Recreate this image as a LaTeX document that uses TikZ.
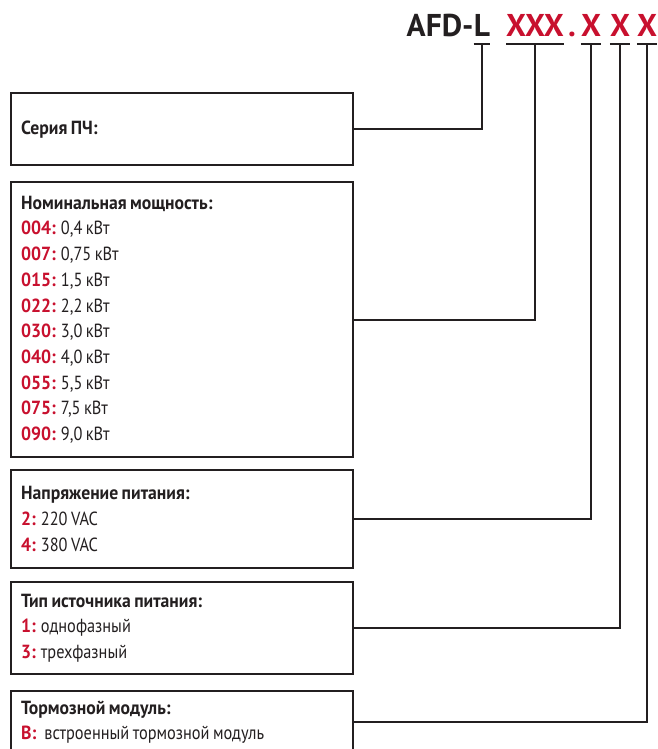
\documentclass[tikz,border=0pt]{standalone}
\usepackage{fontspec}
\setmainfont{PT Sans}[UprightFeatures={FakeStretch=0.86},BoldFeatures={FakeStretch=0.93}]
\newfontfamily\titlefont{PT Sans}
\usetikzlibrary{positioning}
\definecolor{afdred}{RGB}{200,16,46}
\definecolor{afdline}{RGB}{35,31,32}
\newcommand{\code}[1]{\textbf{\textcolor{afdred}{#1}}\hspace{5pt}\ignorespaces}

\begin{document}
\begin{tikzpicture}[x=1pt,y=-1pt,
    box/.style={draw=afdline,line width=2.3pt,anchor=north west,minimum width=342pt,
      text width=322pt,inner xsep=10pt,align=left,text=afdline,
      font=\fontsize{19}{25.7}\selectfont,
      execute at begin node={\spaceskip=3.4pt\relax}},
    head/.style={inner sep=0pt,anchor=base,text=afdline,font=\titlefont\bfseries\fontsize{31.5}{31.5}\selectfont},
    redhead/.style={head,text=afdred},
    bar/.style={draw=afdline,line width=2.3pt},
    link/.style={draw=afdline,line width=2.3pt}]
\useasboundingbox (0,0) rectangle (657,749);

% model code
\node[head] (serL) at (482,37) {L};
\node[head,anchor=base east] (afd) at (serL.base west) {AFD-};
\node[redhead] (pow) at (535,37) {XXX};
\node[redhead] (dot) at (572,37) {.};
\node[redhead] (volt) at (591,37) {X};
\node[redhead] (phase) at (620,37) {X};
\node[redhead] (brake) at (647,37) {X};

% boxes
\node[box,minimum height=72pt] (series) at (10,92) {\textbf{Серия ПЧ:}};
\node[box,minimum height=275pt] (power) at (10,181) {\textbf{Номинальная мощность:}\\
  \code{004:} 0,4 кВт\\
  \code{007:} 0,75 кВт\\
  \code{015:} 1,5 кВт\\
  \code{022:} 2,2 кВт\\
  \code{030:} 3,0 кВт\\
  \code{040:} 4,0 кВт\\
  \code{055:} 5,5 кВт\\
  \code{075:} 7,5 кВт\\
  \code{090:} 9,0 кВт};
\node[box,minimum height=98pt] (voltage) at (10,469) {\textbf{Напряжение питания:}\\
  \code{2:} 220 VAC\\
  \code{4:} 380 VAC};
\node[box,minimum height=92pt] (source) at (10,581) {\textbf{Тип источника питания:}\\
  \code{1:} однофазный\\
  \code{3:} трехфазный};
\node[box,minimum height=62pt] (braking) at (10,690) {\textbf{Тормозной модуль:}\\
  \code{B:}\hspace{3pt}встроенный тормозной модуль};

% underlines
\begin{scope}
  \draw[bar] ([yshift=-7pt]serL.base west) -- ([yshift=-7pt]serL.base east);
  \draw[bar] ([yshift=-7pt]pow.base west) -- ([yshift=-7pt]pow.base east);
  \draw[bar] ([yshift=-7pt]volt.base west) -- ([yshift=-7pt]volt.base east);
  \draw[bar] ([yshift=-7pt]phase.base west) -- ([yshift=-7pt]phase.base east);
  \draw[bar] ([yshift=-7pt]brake.base west) -- ([yshift=-7pt]brake.base east);
\end{scope}

% connectors
\begin{scope}
  \draw[link] ([yshift=-7pt]serL.base) |- (series.east);
  \draw[link] ([yshift=-7pt]pow.base) |- (power.east);
  \draw[link] ([yshift=-7pt]volt.base) |- (voltage.east);
  \draw[link] ([yshift=-7pt]phase.base) |- (source.east);
  \draw[link] ([yshift=-7pt]brake.base) |- (braking.east);
\end{scope}
\end{tikzpicture}
\end{document}
